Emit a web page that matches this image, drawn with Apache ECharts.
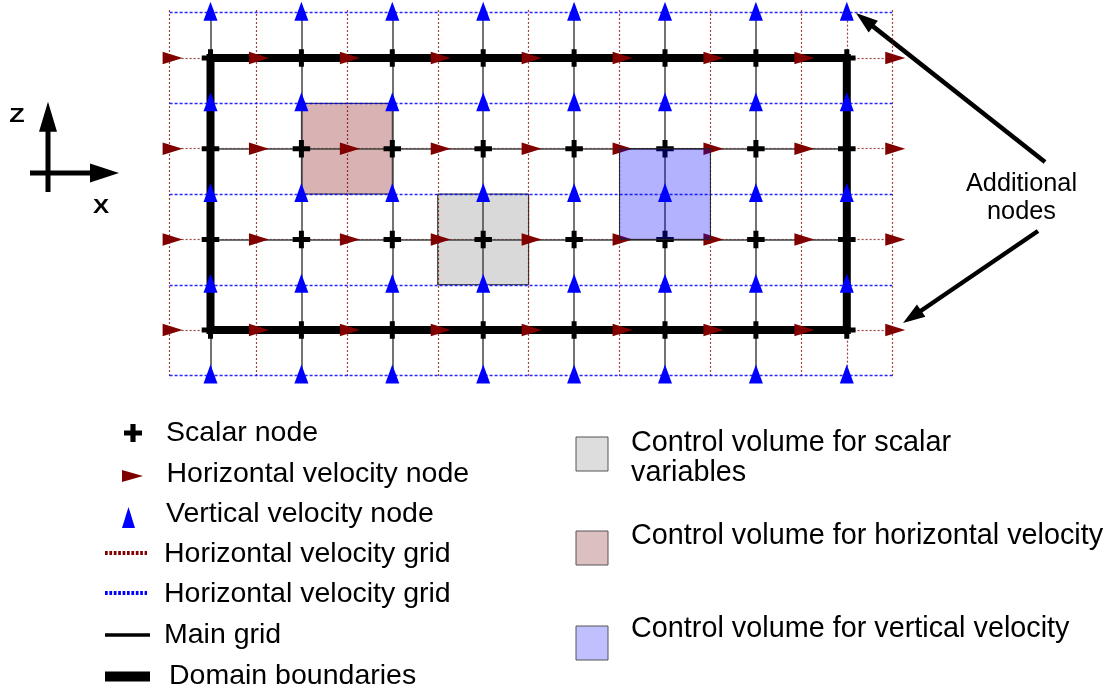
<!DOCTYPE html>
<html><head><meta charset="utf-8">
<script src="https://cdn.jsdelivr.net/npm/echarts/dist/echarts.min.js"></script>
<style>html,body{margin:0;padding:0;background:#fff}#c{width:1109px;height:693px}</style>
</head><body><div id="c"></div>
<script>
// ---- data (grid index units) ----
const mainX = [0, 1, 2, 3, 4, 5, 6, 7];            // main (scalar) grid columns
const mainZ = [0, 1, 2, 3];                         // main (scalar) grid rows
const uNodeX = [-0.45, 0.5, 1.5, 2.5, 3.5, 4.5, 5.5, 6.5, 7.5]; // horizontal velocity columns
const wNodeZ = [-0.5, 0.5, 1.5, 2.5, 3.5];          // vertical velocity rows
const domainX = [0, 7];
const domainZ = [0, 3];
const cvScalar = [3, 2];   // centre of scalar control volume
const cvU = [1.5, 1];      // centre of horizontal-velocity control volume
const cvW = [5, 1.5];      // centre of vertical-velocity control volume
const legendLeft = ['Scalar node', 'Horizontal velocity node', 'Vertical velocity node',
  'Horizontal velocity grid', 'Horizontal velocity grid', 'Main grid', 'Domain boundaries'];
const legendRight = ['Control volume for scalar\nvariables', 'Control volume for horizontal velocity',
  'Control volume for vertical velocity'];
const annotationText = 'Additional\nnodes';
const axisLabels = ['Z', 'X'];

// ---- derived ----
const scalarNodes = [];
mainX.forEach(x => mainZ.forEach(z => scalarNodes.push([x, z])));
const uNodes = [];
uNodeX.forEach(x => mainZ.forEach(z => uNodes.push([x, z])));
const wNodes = [];
mainX.forEach(x => wNodeZ.forEach(z => wNodes.push([x, z])));

const xLo = uNodeX[0], xHi = uNodeX[uNodeX.length - 1];
const zLo = wNodeZ[0], zHi = wNodeZ[wNodeZ.length - 1];

const redLines = [];
uNodeX.forEach(x => redLines.push({coords: [[x, zLo - 0.03], [x, zHi + 0.03]]}));
redLines.push({coords: [[mainX[mainX.length - 1], zLo], [mainX[mainX.length - 1], zHi]]});
mainZ.forEach(z => redLines.push({coords: [[xLo, z], [xHi, z]]}));

const blueLines = [];
wNodeZ.forEach(z => blueLines.push({coords: [[xLo, z], [xHi, z]]}));

const mainLines = [];
mainX.slice(0, -1).forEach(x => mainLines.push({coords: [[x, zLo], [x, zHi]]}));
mainZ.forEach(z => mainLines.push({coords: [[domainX[0], z], [domainX[1], z]]}));

const domainLine = [{coords: [[domainX[0], domainZ[0]], [domainX[1], domainZ[0]], [domainX[1], domainZ[1]],
  [domainX[0], domainZ[1]], [domainX[0], domainZ[0]]]}];

function cvRender(fill) {
  return function (params, api) {
    const p0 = api.coord([api.value(0) - 0.5, api.value(1) - 0.5]);
    const p1 = api.coord([api.value(0) + 0.5, api.value(1) + 0.5]);
    return {
      type: 'rect',
      shape: {x: Math.min(p0[0], p1[0]), y: Math.min(p0[1], p1[1]),
        width: Math.abs(p1[0] - p0[0]), height: Math.abs(p1[1] - p0[1])},
      style: {fill: fill, stroke: '#222', lineWidth: 1}
    };
  };
}

// ---- graphic helpers (decorations) ----
const FONT = '"Liberation Sans", Arial, sans-serif';
function arrow(x1, y1, x2, y2, lw, hl, hw, color) {
  const dx = x2 - x1, dy = y2 - y1, L = Math.hypot(dx, dy);
  const ux = dx / L, uy = dy / L, nx = -uy, ny = ux;
  const bx = x2 - ux * hl, by = y2 - uy * hl;
  return [
    {type: 'line', shape: {x1: x1, y1: y1, x2: bx + ux * 2, y2: by + uy * 2},
      style: {stroke: color, lineWidth: lw}},
    {type: 'polygon', shape: {points: [[x2, y2], [bx + nx * hw / 2, by + ny * hw / 2], [bx - nx * hw / 2, by - ny * hw / 2]]},
      style: {fill: color}}
  ];
}
function plusPts(cx, cy, s) {
  const a = s / 2, t = s * 5 / 35;
  return [[cx - t, cy - a], [cx + t, cy - a], [cx + t, cy - t], [cx + a, cy - t], [cx + a, cy + t], [cx + t, cy + t],
    [cx + t, cy + a], [cx - t, cy + a], [cx - t, cy + t], [cx - a, cy + t], [cx - a, cy - t], [cx - t, cy - t]];
}
function txt(x, y, s, size, extra) {
  return Object.assign({type: 'text', x: x, y: y,
    style: Object.assign({text: s, font: size + 'px ' + FONT, fill: '#000', align: 'left', verticalAlign: 'middle'}, extra || {})});
}

const G = [];
// axis symbol
G.push(...arrow(48, 192, 48, 101.7, 5, 30, 18, '#000'));
G.push(...arrow(30, 173, 119, 173, 5, 29, 19, '#000'));
G.push(Object.assign(txt(17, 116.5, axisLabels[0], 21, {align: 'center', font: 'bold 21px ' + FONT}), {scaleX: 1.2, originX: 0, originY: 0}));
G.push(Object.assign(txt(101, 207.5, axisLabels[1], 21, {align: 'center', font: 'bold 21px ' + FONT}), {scaleX: 1.15, originX: 0, originY: 0}));
// annotation
G.push(...arrow(1045, 162, 856, 13, 4.5, 22, 15, '#000'));
G.push(...arrow(1038, 231, 903, 323, 4.5, 22, 15, '#000'));
G.push(txt(1021.5, 198, annotationText, 25.3, {align: 'center', lineHeight: 28.5}));
// left legend
const lY = [433.5, 474.5, 514.2, 554.2, 594.2, 634.8, 676];
const lX = [166, 166.5, 166, 164, 164, 164, 169];
legendLeft.forEach((s, i) => G.push(txt(lX[i], lY[i], s, 28.5)));
G.push({type: 'polygon', shape: {points: plusPts(133, 433, 18)}, style: {fill: '#000'}});
G.push({type: 'polygon', shape: {points: [[122, 470], [143, 476], [122, 482]]}, style: {fill: '#800000'}});
G.push({type: 'polygon', shape: {points: [[122, 528], [128.5, 507], [135, 528]]}, style: {fill: '#0000ff'}});
G.push({type: 'line', shape: {x1: 105, y1: 553, x2: 147, y2: 553}, style: {stroke: '#800000', lineWidth: 4, lineDash: [2.7, 1.7]}});
G.push({type: 'line', shape: {x1: 105, y1: 593, x2: 147, y2: 593}, style: {stroke: '#0000ff', lineWidth: 4, lineDash: [2.7, 1.7]}});
G.push({type: 'line', shape: {x1: 105, y1: 635, x2: 150, y2: 635}, style: {stroke: '#000', lineWidth: 3.5}});
G.push({type: 'line', shape: {x1: 105, y1: 676.5, x2: 150, y2: 676.5}, style: {stroke: '#000', lineWidth: 10}});
// right legend
const rBoxY = [437, 531, 626];
const rFill = ['#dddddd', '#dcc0c0', '#c0c0ff'];
const rTextY = [458, 536, 629];
legendRight.forEach((s, i) => {
  G.push({type: 'rect', shape: {x: 576, y: rBoxY[i], width: 32, height: 34}, style: {fill: rFill[i], stroke: '#555', lineWidth: 1}});
  G.push(txt(631, rTextY[i], s, 28.8, {lineHeight: 30}));
});

const chart = echarts.init(document.getElementById('c'), null, {renderer: 'canvas'});
chart.setOption({
  animation: false,
  backgroundColor: '#fff',
  grid: {left: 165.05, top: 12.65, width: 727.2, height: 362.8, containLabel: false},
  xAxis: {type: 'value', min: -0.5, max: 7.5, show: false},
  yAxis: {type: 'value', min: -0.5, max: 3.5, inverse: true, show: false},
  series: [
    {type: 'custom', name: 'Control volume for scalar variables', z: 1, renderItem: cvRender('#d9d9d9'), data: [cvScalar], silent: true},
    {type: 'custom', name: 'Control volume for horizontal velocity', z: 1, renderItem: cvRender('#d9b3b3'), data: [cvU], silent: true},
    {type: 'lines', name: 'Horizontal velocity grid', coordinateSystem: 'cartesian2d', z: 2, clip: false, silent: true,
      lineStyle: {color: '#800000', width: 1.2, type: [2, 2], opacity: 0.75}, data: redLines},
    {type: 'lines', name: 'Vertical velocity grid', coordinateSystem: 'cartesian2d', z: 2, clip: false, silent: true,
      lineStyle: {color: '#0000ff', width: 1.3, type: [3, 2], opacity: 0.85}, data: blueLines},
    {type: 'lines', name: 'Main grid', coordinateSystem: 'cartesian2d', z: 3, clip: false, silent: true,
      lineStyle: {color: '#444', width: 1.5, type: 'solid', opacity: 1}, data: mainLines},
    {type: 'lines', name: 'Domain boundaries', coordinateSystem: 'cartesian2d', polyline: true, z: 4, clip: false, silent: true,
      lineStyle: {color: '#000', width: 8, type: 'solid', opacity: 1, join: 'miter', cap: 'square'}, data: domainLine},
    {type: 'scatter', name: 'Scalar node', z: 5, clip: false, silent: true,
      symbol: 'path://M2.5,0H4.5V2.5H7V4.5H4.5V7H2.5V4.5H0V2.5H2.5Z', symbolSize: 17.5, itemStyle: {color: '#000', opacity: 1}, data: scalarNodes},
    {type: 'scatter', name: 'Horizontal velocity node', z: 5, clip: false, silent: true,
      symbol: 'triangle', symbolSize: [12.5, 20], symbolRotate: -90, symbolOffset: [3, 0],
      itemStyle: {color: '#800000', opacity: 1}, data: uNodes},
    {type: 'scatter', name: 'Vertical velocity node', z: 5, clip: false, silent: true,
      symbol: 'triangle', symbolSize: [14, 19], symbolOffset: [0, -1.5],
      itemStyle: {color: '#0000ff', opacity: 1}, data: wNodes},
    {type: 'custom', name: 'Control volume for vertical velocity', z: 6, renderItem: cvRender('rgba(0,0,255,0.3)'), data: [cvW], silent: true}
  ],
  graphic: {elements: G}
});
</script></body></html>
